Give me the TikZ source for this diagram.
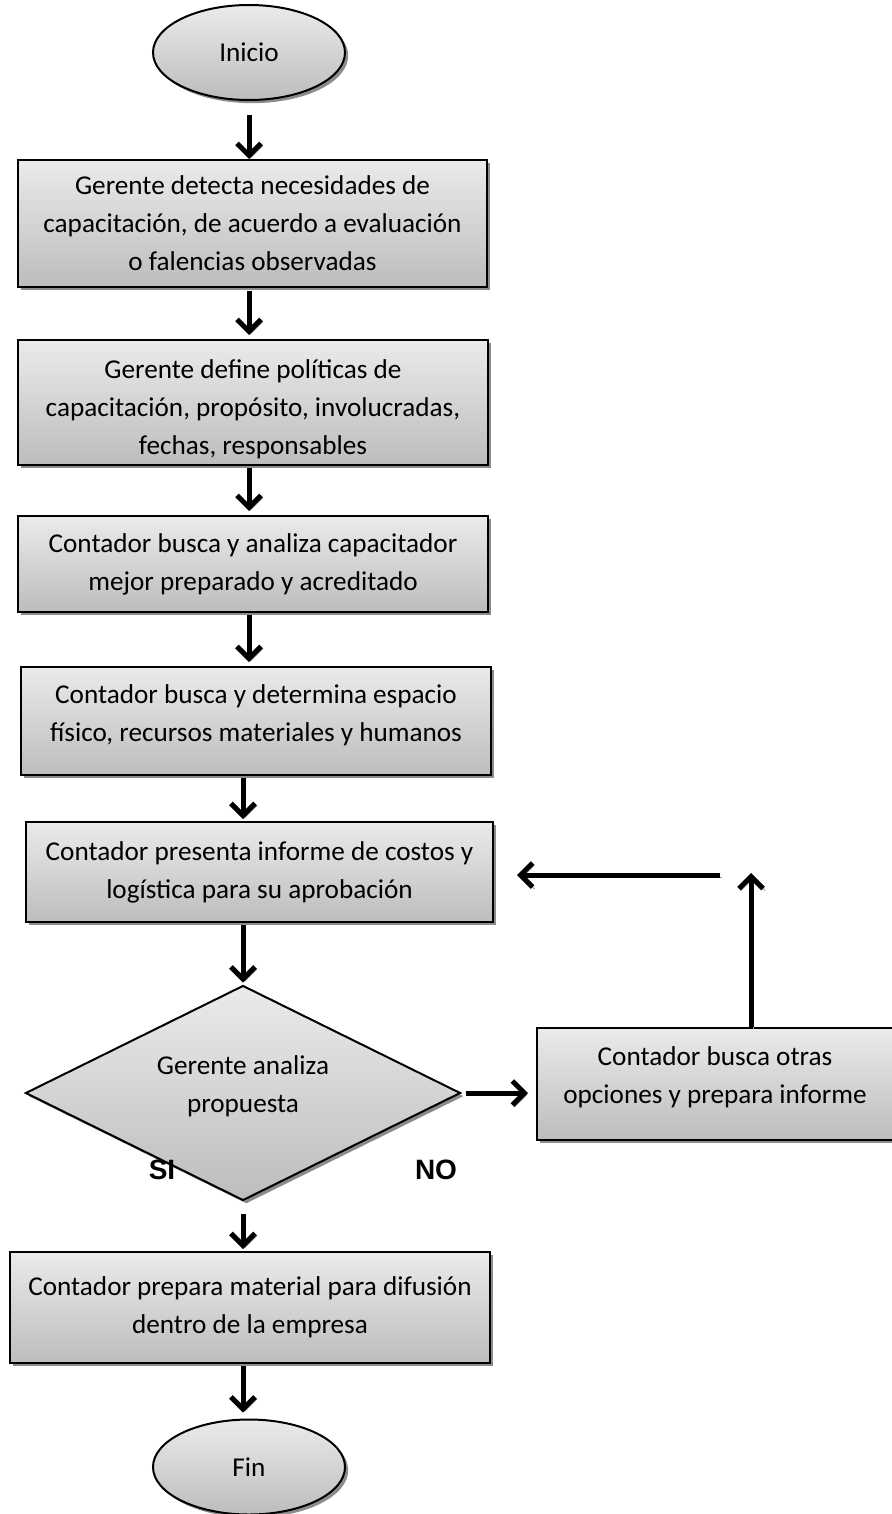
\documentclass[tikz,border=0pt]{standalone}
\usepackage{fontspec}
\setmainfont{Carlito}
\newfontfamily\labelfont{Liberation Sans}
\usetikzlibrary{shapes.geometric,shadows,arrows.meta}
\begin{document}
\begin{tikzpicture}[x=0.5pt,y=-0.5pt,
  shaded/.style={top color=black!8, bottom color=black!26, draw=black, line width=1pt,
    drop shadow={shadow xshift=1.6pt, shadow yshift=-1.6pt, fill=black!45, opacity=1}},
  txt/.style={align=center, font=\fontsize{13.6pt}{19pt}\selectfont, inner sep=0pt},
  procbox/.style={shaded, txt, rectangle},
  terminal/.style={shaded, txt, ellipse, minimum width=96pt, minimum height=47.5pt},
  decision/.style={shaded, txt, diamond, aspect=2, minimum width=217.5pt, minimum height=107.5pt},
  branch/.style={font=\labelfont\bfseries\fontsize{14pt}{16pt}\selectfont, inner sep=0pt},
  arr/.style={line width=2.5pt, -{Straight Barb[length=6pt,width=12pt]},
    preaction={draw=black!40, transform canvas={shift={(1pt,-1pt)}}}}
]
\useasboundingbox (0,0) rectangle (892,1514);

% columns used by the vertical connectors
\coordinate (colA) at (249,0);
\coordinate (colB) at (243,0);

% nodes
\node[terminal] (ini) at (249,52.5) {Inicio};
\node[procbox, minimum width=234.5pt, minimum height=63.5pt] (b1) at (252.5,223.5)
  {Gerente detecta necesidades de\\capacitación, de acuerdo a evaluación\\o falencias observadas};
\node[procbox, minimum width=235pt, minimum height=62.5pt] (b2) at (253,402.5)
  {\mbox{}\\[-2.5pt]Gerente define políticas de\\capacitación, propósito, involucradas,\\fechas, responsables};
\node[procbox, minimum width=235pt, minimum height=48pt] (b3) at (253,564)
  {Contador busca y analiza capacitador\\mejor preparado y acreditado};
\node[procbox, minimum width=235pt, minimum height=54pt] (b4) at (256,721)
  {Contador busca y determina espacio\\físico, recursos materiales y humanos\\[-11.5pt]\mbox{}};
\node[procbox, minimum width=233.5pt, minimum height=50pt] (b5) at (259.5,872)
  {Contador presenta informe de costos y\\logística para su aprobación};
\node[decision] (dia) at (243,1093) {Gerente analiza\\propuesta\\[-10.5pt]\mbox{}};
\node[procbox, minimum width=178pt, minimum height=56pt] (b6) at (715,1084)
  {Contador busca otras\\opciones y prepara informe\\[-10.5pt]\mbox{}};
\node[procbox, minimum width=240pt, minimum height=55.5pt] (b7) at (250,1307.5)
  {Contador prepara material para difusión\\dentro de la empresa};
\node[terminal] (fin) at (249,1467) {Fin};

\node[branch] (si) at (162,1170) {SI};
\node[branch] (no) at (436,1170) {NO};

% free ends of the return path
\coordinate (upend) at (751,873);
\coordinate (backstart) at (720,875);
\coordinate (backend) at (517,875);

% connectors
\draw[arr, shorten <=7pt] (ini.south) -- (b1.north -| colA);
\draw[arr, shorten <=1.5pt, shorten >=2pt] (b1.south -| colA) -- (b2.north -| colA);
\draw[arr, shorten <=1pt, shorten >=2pt] (b2.south -| colA) -- (b3.north -| colA);
\draw[arr, shorten <=1pt, shorten >=2pt] (b3.south -| colA) -- (b4.north -| colA);
\draw[arr, shorten <=1pt, shorten >=1pt] (b4.south -| colB) -- (b5.north -| colB);
\draw[arr, shorten <=1pt, shorten >=1pt] (b5.south -| colB) -- (dia.north);
\draw[arr, shorten <=2pt, shorten >=4pt] (dia.east) -- (dia.east -| b6.west);
\draw[arr] (b6.north -| upend) -- (upend);
\draw[arr] (backstart) -- (backend);
\draw[arr, shorten <=6pt, shorten >=1pt] (dia.south) -- (b7.north -| colB);
\draw[arr, shorten <=1pt, shorten >=3pt] (b7.south -| colB) -- (fin.north -| colB);
\end{tikzpicture}
\end{document}
